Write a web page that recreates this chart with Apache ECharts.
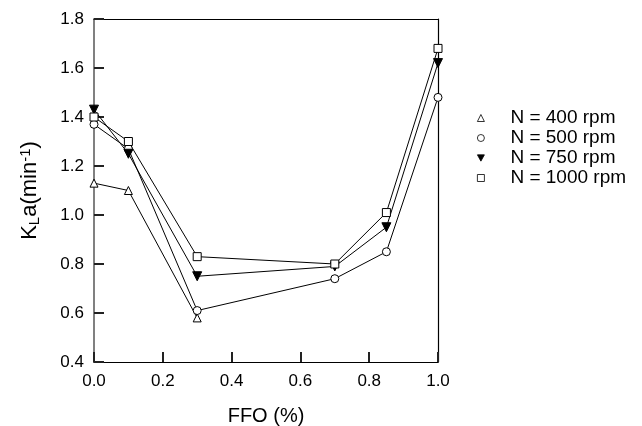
<!DOCTYPE html>
<html>
<head>
<meta charset="utf-8">
<script src="https://cdn.jsdelivr.net/npm/echarts@6/dist/echarts.min.js"></script>
<style>
  html, body { margin: 0; padding: 0; background: #fff; }
  #chart { width: 642px; height: 426px; }
</style>
</head>
<body>
<div id="chart"></div>
<script>
const ffo = [0.0, 0.1, 0.3, 0.7, 0.85, 1.0];

const n400 = [1.13, 1.10, 0.58];
const n500 = [1.37, 1.27, 0.61, 0.74, 0.85, 1.48];
const n750 = [1.43, 1.25, 0.75, 0.79, 0.95, 1.62];
const n1000 = [1.40, 1.30, 0.83, 0.80, 1.01, 1.68];

const seriesNames = ['N = 400 rpm', 'N = 500 rpm', 'N = 750 rpm', 'N = 1000 rpm'];

const downTri = 'path://M0,0L10,0L5,9Z';

function pairs(vals) {
  return vals.map((v, i) => [ffo[i], v]);
}

function makeSeries(name, vals, symbol, filled) {
  return {
    name: name,
    type: 'line',
    data: pairs(vals),
    symbol: symbol,
    symbolSize: filled ? 9 : 8,
    showAllSymbol: true,
    lineStyle: { color: '#000', width: 1 },
    itemStyle: {
      color: filled ? '#000' : '#fff',
      borderColor: '#000',
      borderWidth: 1
    },
    emphasis: { disabled: true },
    z: 3
  };
}

// plain frame lines for the top and right edges
function frameAxis(pos, min, max) {
  return {
    type: 'value',
    position: pos,
    min: min, max: max,
    axisLine: { show: true, onZero: false, lineStyle: { color: '#000', width: 1.2 } },
    axisTick: { show: false },
    axisLabel: { show: false },
    splitLine: { show: false }
  };
}

const chart = echarts.init(document.getElementById('chart'));

const axisFont = 'Liberation Sans, Arial, sans-serif';

const option = {
  backgroundColor: '#fff',
  animation: false,
  textStyle: { fontFamily: axisFont },
  grid: {
    left: 94, right: 204, top: 19, bottom: 64,
    outerBoundsMode: 'none',
    containLabel: false
  },
  legend: {
    orient: 'vertical',
    left: 472,
    top: 103,
    itemWidth: 7,
    itemHeight: 7,
    itemGap: 0,
    selectedMode: false,
    itemStyle: { borderWidth: 0.8 },
    textStyle: { fontSize: 19, lineHeight: 20, color: '#000', padding: [0, 0, 0, 21] },
    data: [
      { name: seriesNames[0], icon: 'triangle' },
      { name: seriesNames[1], icon: 'circle' },
      { name: seriesNames[2], icon: downTri },
      { name: seriesNames[3], icon: 'rect' }
    ]
  },
  xAxis: [{
    type: 'value',
    min: 0, max: 1, interval: 0.2,
    name: 'FFO (%)',
    nameLocation: 'middle',
    nameGap: 44,
    nameTextStyle: { fontSize: 20, color: '#000' },
    axisLine: { show: true, onZero: false, lineStyle: { color: '#000', width: 1.2 } },
    axisTick: { show: true, inside: true, length: 10, lineStyle: { color: '#222', width: 2 } },
    axisLabel: { fontSize: 17, color: '#000', margin: 11, formatter: v => v.toFixed(1) },
    splitLine: { show: false }
  }, frameAxis('top', 0, 1)],
  yAxis: [{
    type: 'value',
    min: 0.4, max: 1.8, interval: 0.2,
    name: '{m|K}{sub|L}{m|a(min}{sup|-1}{m|)}',
    nameLocation: 'middle',
    nameGap: 52,
    nameTextStyle: {
      color: '#000',
      rich: {
        m: { fontSize: 22, color: '#000' },
        sub: { fontSize: 15, color: '#000', verticalAlign: 'bottom', padding: [9, 0, 0, 0] },
        sup: { fontSize: 15, color: '#000', verticalAlign: 'top', padding: [0, 0, 9, 0] }
      }
    },
    axisLine: { show: true, onZero: false, lineStyle: { color: '#808080', width: 2 } },
    axisTick: { show: true, inside: true, length: 10, lineStyle: { color: '#222', width: 2 } },
    axisLabel: { fontSize: 17, color: '#000', margin: 10, formatter: v => v.toFixed(1) },
    splitLine: { show: false }
  }, frameAxis('right', 0.4, 1.8)],
  series: [
    makeSeries(seriesNames[0], n400, 'triangle', false),
    makeSeries(seriesNames[1], n500, 'circle', false),
    makeSeries(seriesNames[2], n750, downTri, true),
    makeSeries(seriesNames[3], n1000, 'rect', false)
  ]
};

chart.setOption(option);
</script>
</body>
</html>
